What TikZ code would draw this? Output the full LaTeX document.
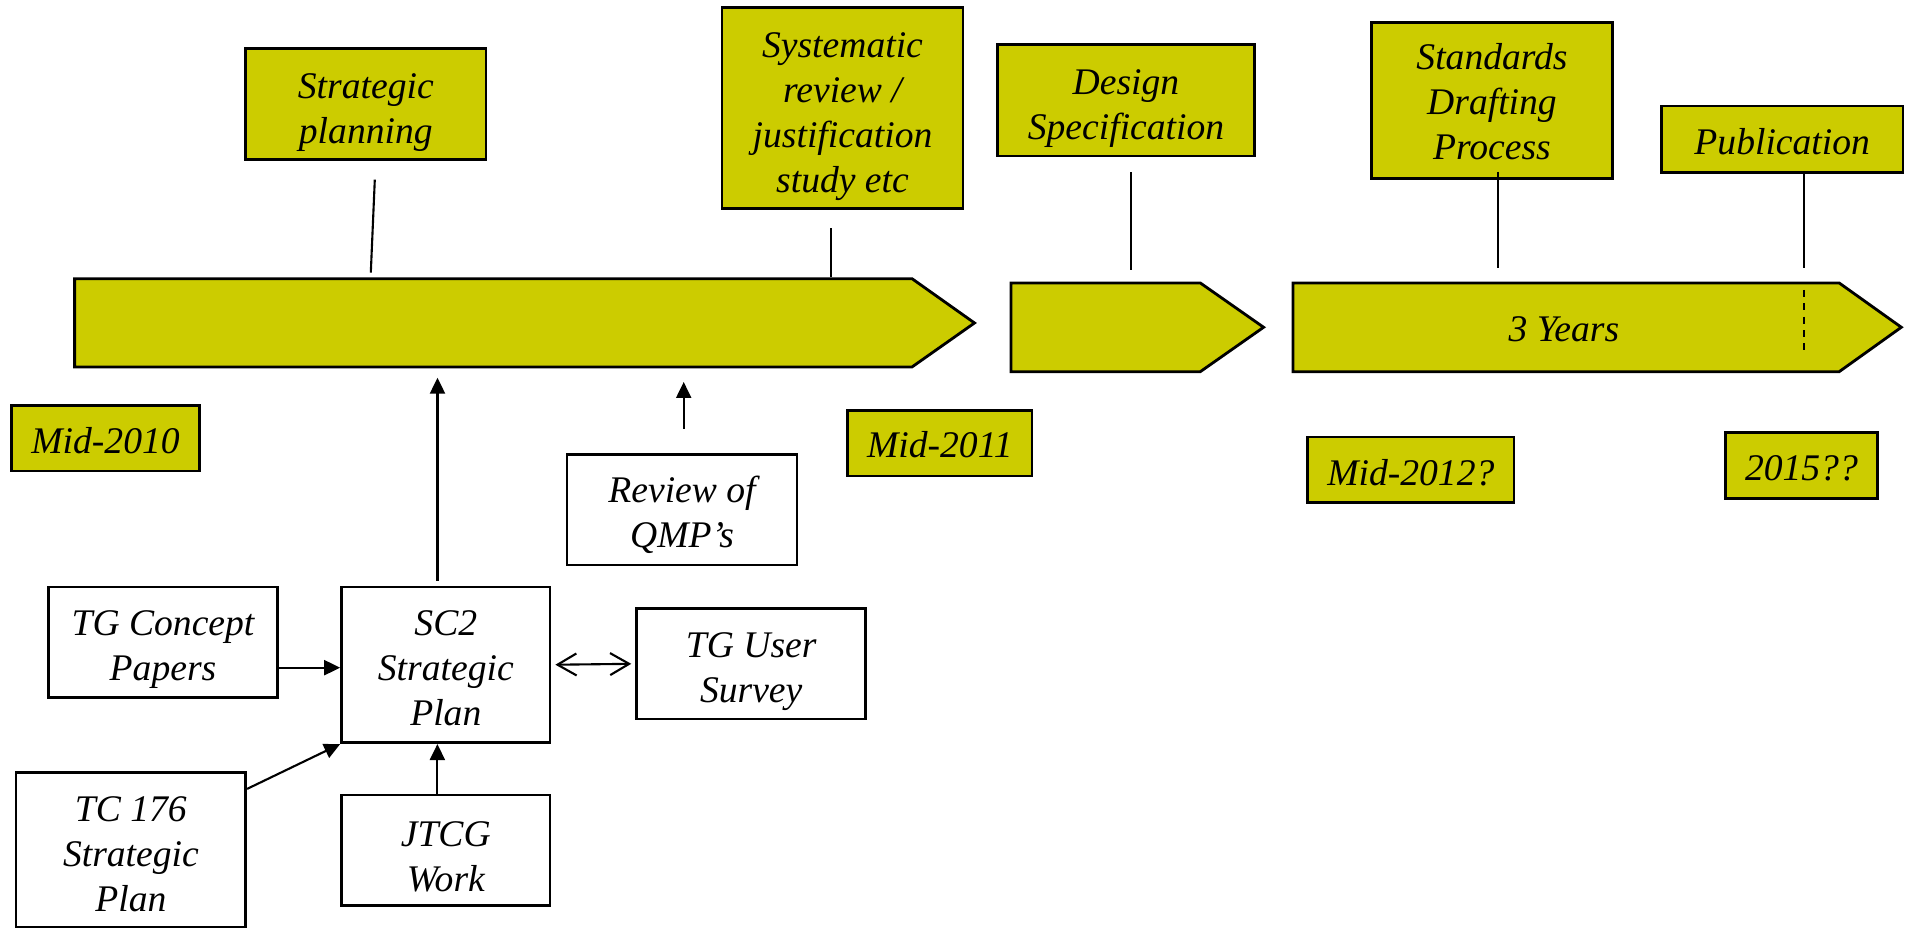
\documentclass[tikz,border=0pt]{standalone}
\usepackage{fontspec}
\setmainfont{Liberation Serif}
\usepackage{tikz}
\usetikzlibrary{arrows.meta}
\definecolor{olivebox}{RGB}{204,204,0}
\newcommand{\toppad}[1]{\rule{0pt}{#1}}

\begin{document}
\begin{tikzpicture}[every node/.style={font=\fontsize{10.7}{12.8}\selectfont\itshape, align=center, inner sep=0pt},
    ybox/.style={draw, line width=0.8pt, fill=olivebox},
    wbox/.style={draw, line width=0.8pt, fill=white},
    bar/.style={draw, line width=0.8pt, fill=olivebox},
    line width=0.6pt,
    >={Triangle[length=1.6mm,width=1.5mm]}]
        \useasboundingbox (0,0) rectangle (19.05,9.28);
        % timeline
        \draw[bar] (0.746,5.61) -- (0.746,6.493) -- (9.12,6.493) -- (9.745,6.05) -- (9.12,5.61) -- cycle;
        \draw[bar] (10.109,5.563) -- (10.109,6.45) -- (12.003,6.45) -- (12.636,6.007) -- (12.003,5.563) -- cycle;
        \draw[bar] (12.929,5.563) -- (12.929,6.45) -- (18.392,6.45) -- (19.013,6.007) -- (18.392,5.563) -- cycle;
        \node (yrs) at (15.639,5.99) {3 Years};
        \draw[dash pattern=on 2pt off 1.8pt] (18.044,6.38) -- (18.044,5.73);
        % stages
        \node[ybox, minimum width=2.405cm, minimum height=1.106cm] (plan) at (3.658,8.24) {\toppad{12pt}Strategic\\planning};
        \node[ybox, minimum width=2.41cm, minimum height=2.014cm] (sysrev) at (8.425,8.2) {\toppad{12pt}Systematic\\review /\\justification\\study etc};
        \node[ybox, minimum width=2.57cm, minimum height=1.117cm] (design) at (11.26,8.278) {\toppad{11.7pt}Design\\Specification};
        \node[ybox, minimum width=2.412cm, minimum height=1.56cm] (draft) at (14.92,8.277) {\toppad{8.3pt}Standards\\Drafting\\Process};
        \node[ybox, minimum width=2.417cm, minimum height=0.667cm] (publ) at (17.822,7.887) {\toppad{8.7pt}Publication};
        \draw ([shift={(0.09,-0.19)}]plan.south) -- ++(-0.04,-0.93);
        \draw ([shift={(-0.115,-0.18)}]sysrev.south) -- ++(0,-0.49);
        \draw ([shift={(0.05,-0.15)}]design.south) -- ++(0,-0.974);
        \draw ([shift={(0.06,0.08)}]draft.south) -- ++(0,-0.967);
        \draw ([shift={(0.222,0.03)}]publ.south) -- ++(0,-0.967);
        % dates
        \node[ybox, minimum width=1.88cm, minimum height=0.653cm] (m2010) at (1.055,4.897) {\toppad{8.7pt}Mid-2010};
        \node[ybox, minimum width=1.844cm, minimum height=0.657cm] (m2011) at (9.398,4.848) {\toppad{8pt}Mid-2011};
        \node[ybox, minimum width=2.065cm, minimum height=0.657cm] (m2012) at (14.108,4.582) {\toppad{9.3pt}Mid-2012?};
        \node[ybox, minimum width=1.522cm, minimum height=0.66cm] (y2015) at (18.014,4.627) {\toppad{8.7pt}2015??};
        % inputs
        \node[wbox, minimum width=2.3cm, minimum height=1.107cm] (qmp) at (6.82,4.183) {\toppad{10.4pt}Review of\\QMP’s};
        \node[wbox, minimum width=2.296cm, minimum height=1.107cm] (concept) at (1.63,2.857) {\toppad{11pt}TG Concept\\Papers};
        \node[wbox, minimum width=2.084cm, minimum height=1.557cm] (sc2) at (4.458,2.632) {\toppad{9.3pt}SC2\\Strategic\\Plan};
        \node[wbox, minimum width=2.291cm, minimum height=1.103cm] (survey) at (7.512,2.642) {\toppad{11.8pt}TG User\\Survey};
        \node[wbox, minimum width=2.297cm, minimum height=1.552cm] (tc) at (1.309,0.781) {\toppad{9.7pt}TC 176\\Strategic\\Plan};
        \node[wbox, minimum width=2.084cm, minimum height=1.107cm] (jtcg) at (4.458,0.777) {\toppad{11pt}JTCG\\Work};
        \coordinate (up1) at (4.375,5.503);
        \coordinate (up2) at (6.837,5.46);
        \coordinate (cp) at ([yshift=-0.254cm]concept.east);
        \draw[->] (sc2.north -| up1) ++(0,0.05) -- (up1);
        \draw[->] (qmp.north -| up2) ++(0,0.24) -- (up2);
        \draw[->] (cp) -- (cp -| sc2.west);
        \draw[->] ([yshift=-0.18cm]tc.north east) -- (sc2.south west);
        \draw[->] ([xshift=-0.084cm]jtcg.north) -- ([xshift=-0.084cm]sc2.south);
        \draw[<->, >={Straight Barb[length=1.9mm,width=2.2mm]}, shorten <=0.04cm, shorten >=0.04cm] (sc2.east) -- (survey.west);
    \end{tikzpicture}
\end{document}
